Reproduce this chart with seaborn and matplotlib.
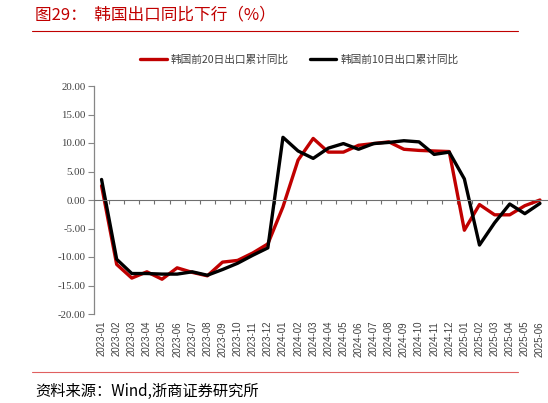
import matplotlib
matplotlib.use("Agg")
import matplotlib.pyplot as plt
from matplotlib.lines import Line2D
import seaborn as sns
import pandas as pd
import numpy as np

# ---- data ----
months = ["2023-01", "2023-02", "2023-03", "2023-04", "2023-05", "2023-06",
          "2023-07", "2023-08", "2023-09", "2023-10", "2023-11", "2023-12",
          "2024-01", "2024-02", "2024-03", "2024-04", "2024-05", "2024-06",
          "2024-07", "2024-08", "2024-09", "2024-10", "2024-11", "2024-12",
          "2025-01", "2025-02", "2025-03", "2025-04", "2025-05", "2025-06"]
export_20d = [2.5, -11.3, -13.7, -12.6, -13.9, -11.9, -12.7, -13.3, -10.9, -10.6,
              -9.3, -7.7, -1.2, 7.0, 10.8, 8.4, 8.4, 9.6, 9.9, 10.2,
              8.9, 8.7, 8.6, 8.5, -5.3, -0.8, -2.6, -2.6, -1.0, 0.0]
export_10d = [3.6, -10.4, -12.9, -12.9, -13.0, -13.0, -12.6, -13.2, -12.2, -11.1,
              -9.7, -8.4, 11.0, 8.6, 7.3, 9.1, 9.9, 8.9, 9.9, 10.1,
              10.4, 10.2, 8.0, 8.4, 3.7, -7.9, -4.0, -0.7, -2.4, -0.6]
series_names = ["韩国前20日出口累计同比", "韩国前10日出口累计同比"]
series_colors = ["#c00000", "#000000"]
y_ticks = [20, 15, 10, 5, 0, -5, -10, -15, -20]
title_text = "图29：  韩国出口同比下行（%）"
source_text = "资料来源：Wind,浙商证券研究所"

sns.set_theme(style="white")
plt.rcParams['font.family'] = ['Noto Sans CJK SC', 'DejaVu Sans']
plt.rcParams['axes.unicode_minus'] = False

W, H = 548, 403
fig = plt.figure(figsize=(W / 100, H / 100), dpi=100)
fig.patch.set_facecolor("white")
ax = fig.add_axes([94 / W, 1 - 314 / H, (547.5 - 94) / W, 228 / H])

df = pd.DataFrame({"month": months,
                   series_names[0]: export_20d,
                   series_names[1]: export_10d})
long = df.melt(id_vars="month", var_name="series", value_name="value")
pos = {m: i for i, m in enumerate(months)}
long["x"] = long["month"].map(pos)

sns.lineplot(data=long, x="x", y="value", hue="series", hue_order=series_names,
             palette=dict(zip(series_names, series_colors)), linewidth=2.4,
             ax=ax, sort=False, legend=True)

handles, labels = ax.get_legend_handles_labels()
ax.get_legend().remove()
hl = [(h, l) for h, l in zip(handles, labels) if l in series_names]
leg = fig.legend([h for h, _ in hl], [l for _, l in hl],
                 loc="center", bbox_to_anchor=(299 / W, 1 - 60 / H), ncol=2,
                 frameon=False, fontsize=7.7, handlelength=2.5,
                 handletextpad=0.35, columnspacing=2.0)
for t in leg.get_texts():
    t.set_color("#404040")
for h in leg.legend_handles:
    h.set_linewidth(2.4)

ax.set_xlim(-0.5, len(months) - 0.5)
ax.set_ylim(-20, 20)
ax.set_xlabel("")
ax.set_ylabel("")

# y axis
ax.set_yticks(y_ticks)
ax.set_yticklabels([f"{v:.2f}" for v in y_ticks], family="Liberation Serif",
                   fontsize=7.8, color="#404040")
ax.tick_params(axis="y", direction="out", length=4, width=0.8, color="#868686",
               pad=2, left=True)

for s in ["top", "right"]:
    ax.spines[s].set_visible(False)
ax.spines["left"].set_color("#868686")
ax.spines["left"].set_linewidth(0.9)
ax.spines["bottom"].set_position(("data", 0))
ax.spines["bottom"].set_color("#6f6f6f")
ax.spines["bottom"].set_linewidth(0.8)

# tick marks on the zero line at category boundaries
ax.set_xticks(np.arange(0.5, len(months) - 0.5, 1))
ax.set_xticklabels([])
ax.tick_params(axis="x", direction="out", length=3, width=0.8, color="#6f6f6f",
               bottom=True)

# category labels at the bottom
sec = ax.secondary_xaxis(location=0)
sec.set_xticks(range(len(months)))
sec.set_xticklabels(months, rotation=90, family="Liberation Sans",
                    fontsize=7, color="#404040")
sec.tick_params(length=0, pad=5)
sec.spines["bottom"].set_visible(False)

# title, rules, source
fig.text(35 / W, 1 - 15 / H, title_text, color="#c00000", fontsize=12,
         va="center", ha="left")
fig.add_artist(Line2D([32 / W, 518 / W], [1 - 31 / H, 1 - 31 / H],
                      color="#c00000", lw=0.8))
fig.add_artist(Line2D([32 / W, 518 / W], [1 - 372 / H, 1 - 372 / H],
                      color="#e06060", lw=0.8))
fig.text(35 / W, 1 - 391 / H, source_text, color="#000000", fontsize=11,
         va="center", ha="left")

fig.savefig("out.png", dpi=100, facecolor="white")
